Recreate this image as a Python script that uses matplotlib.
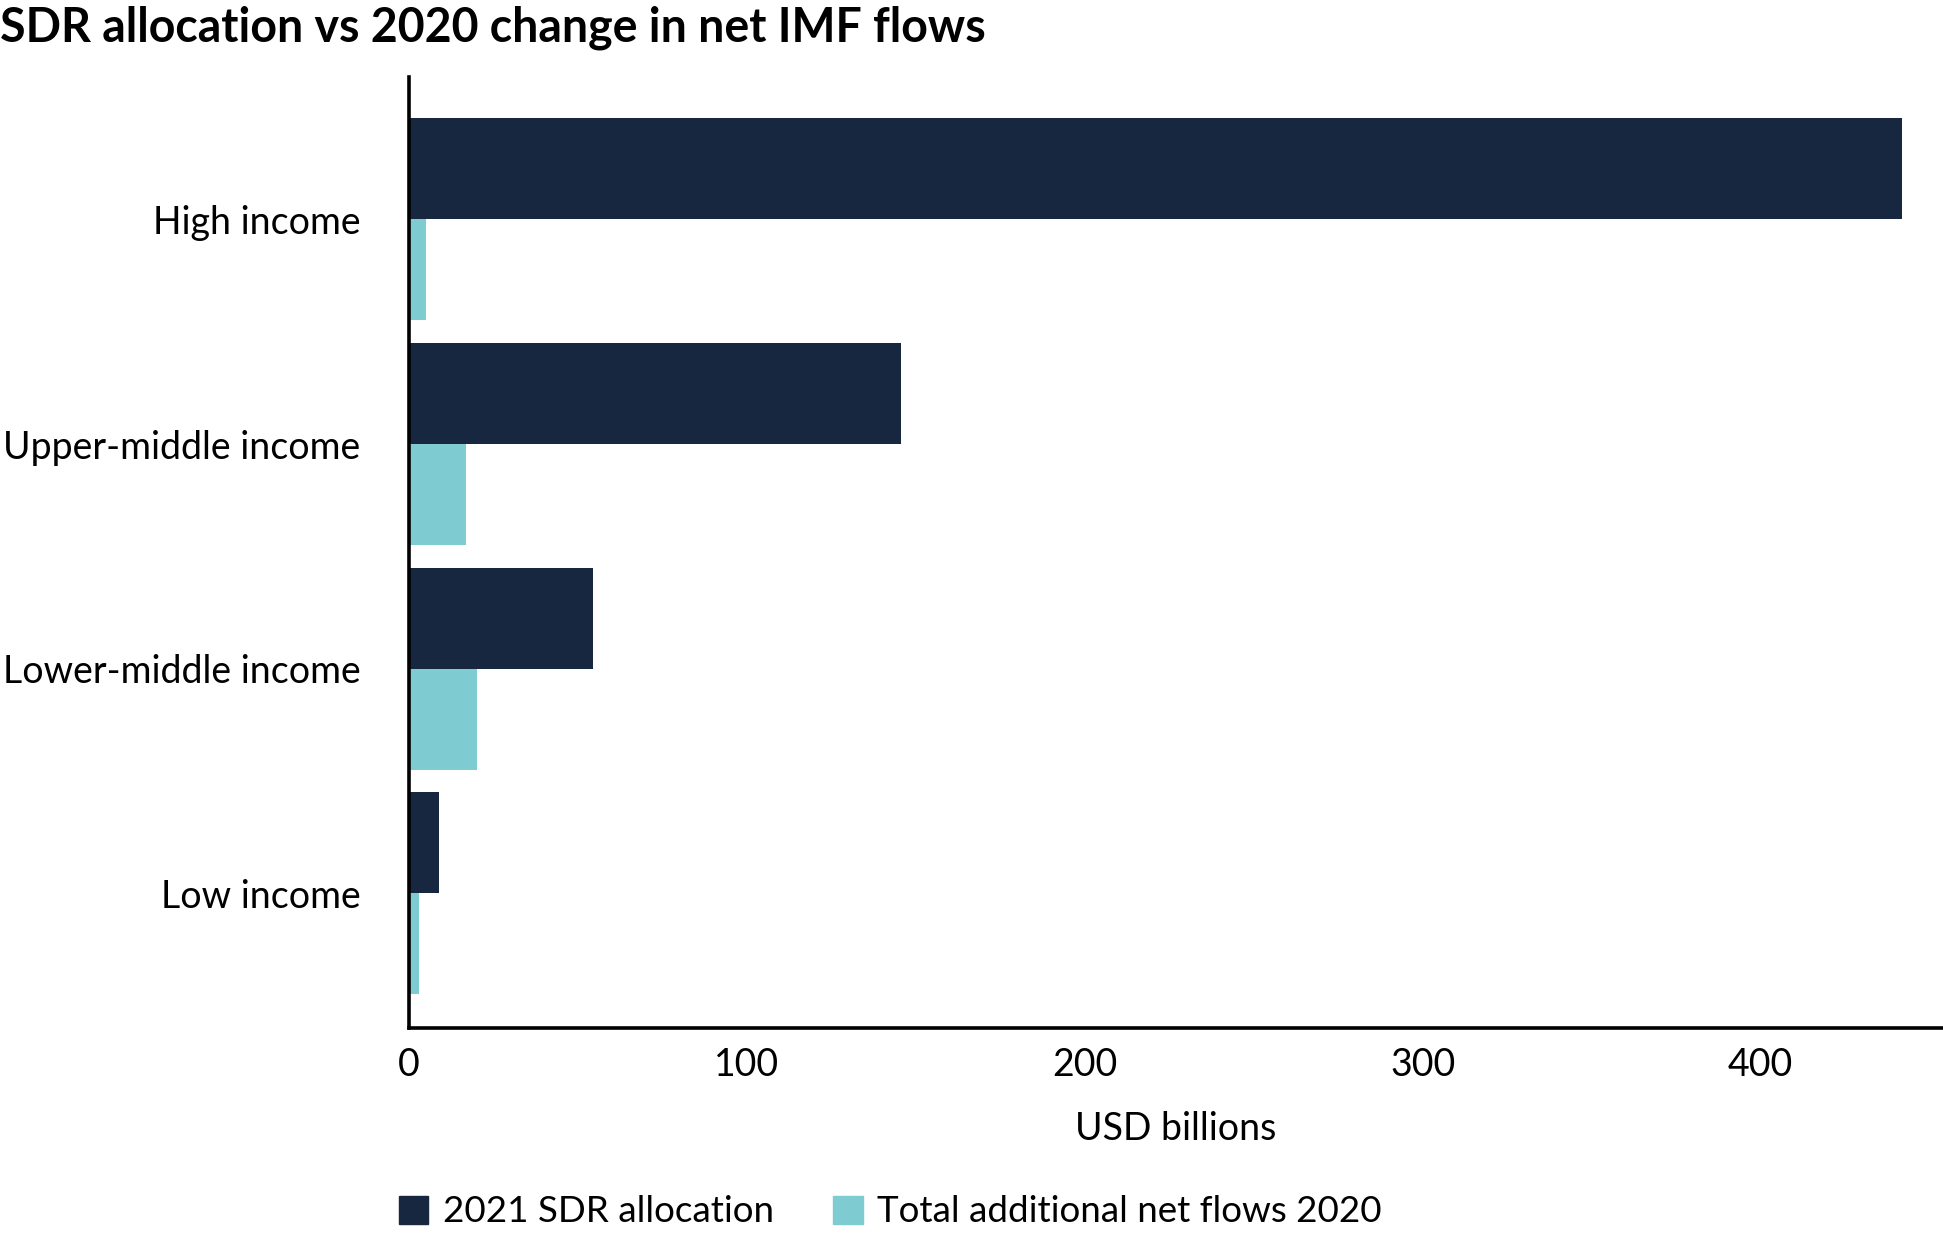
import numpy as np
import matplotlib.pyplot as plt
from matplotlib.patches import Patch

plt.rcParams['font.family'] = ['Lato', 'DejaVu Sans']

categories = ['High income', 'Upper-middle income', 'Lower-middle income', 'Low income']
sdr_2021 = [442, 145.5, 54.5, 9]
net_flows_2020 = [5, 17, 20, 3]
xticks = [0, 100, 200, 300, 400]

navy = '#172740'
teal = '#7ECBD2'

fig = plt.figure(figsize=(19.43, 12.35), dpi=100)
ax = fig.add_axes([409/1943, 1 - 1028/1235, 1 - 409/1943, (1028 - 77)/1235])

y = np.arange(len(categories))
h = 0.45
ax.barh(y - h/2, sdr_2021, height=h, color=navy)
ax.barh(y + h/2, net_flows_2020, height=h, color=teal)

ax.set_ylim(3.6, -0.634)
ax.set_xlim(0, 454)
ax.set_yticks(y)
ax.set_yticklabels(categories, fontsize=27)
ax.set_xticks(xticks)
ax.set_xticklabels([str(t) for t in xticks], fontsize=27)
ax.tick_params(axis='y', length=0, pad=35)
ax.tick_params(axis='x', length=0, pad=14)
ax.set_xlabel('USD billions', fontsize=27, labelpad=20)

for s in ['top', 'right']:
    ax.spines[s].set_visible(False)
for s in ['left', 'bottom']:
    ax.spines[s].set_linewidth(2.6)
    ax.spines[s].set_color('black')

fig.text(0.0, 1 - 6/1235, 'SDR allocation vs 2020 change in net IMF flows',
         fontsize=33.5, fontweight='bold', ha='left', va='top')

handles = [Patch(color=navy, label='2021 SDR allocation'),
           Patch(color=teal, label='Total additional net flows 2020')]
fig.legend(handles=handles, loc='center left', bbox_to_anchor=(399/1943, 1 - 1212/1235),
           ncol=2, frameon=False, fontsize=26.5, handlelength=0.8, handleheight=0.8,
           handletextpad=0.4, columnspacing=1.6, borderpad=0, borderaxespad=0)

fig.savefig('out.png', dpi=100)
